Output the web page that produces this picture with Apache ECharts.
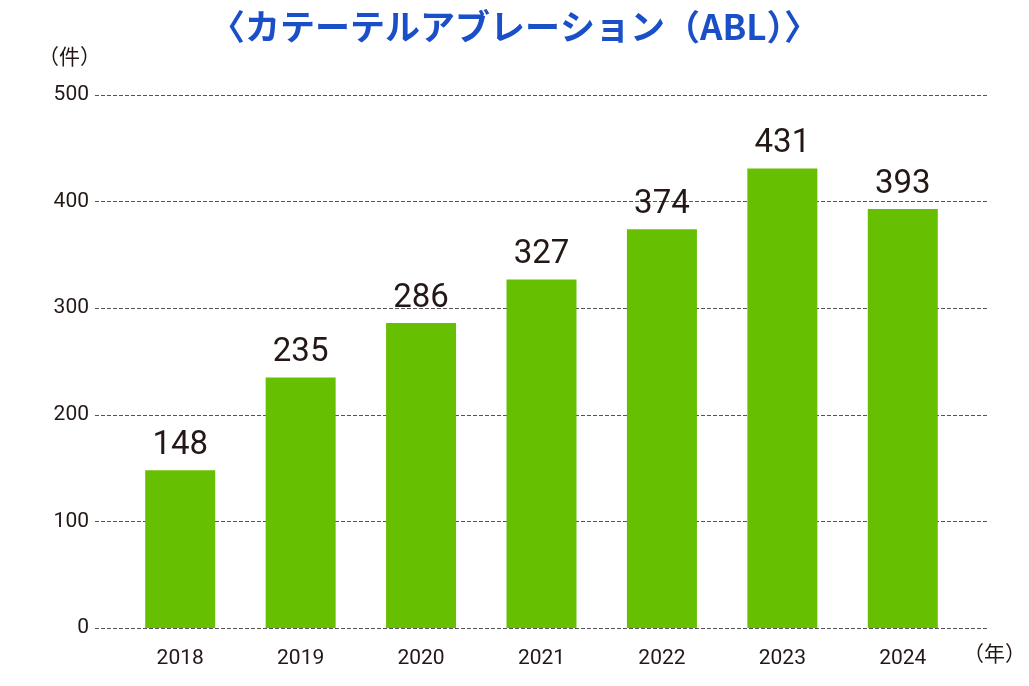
<!DOCTYPE html>
<html><head><meta charset="utf-8">
<script src="https://cdn.jsdelivr.net/npm/echarts@6/dist/echarts.min.js"></script>
<style>html,body{margin:0;background:#fff}#c{width:1029px;height:686px}</style>
</head><body><div id="c"></div>
<script>
const categories = ['2018','2019','2020','2021','2022','2023','2024'];
const values = [148,235,286,327,374,431,393];
const yTicks = [0,100,200,300,400,500];
const font = '"Noto Sans CJK JP","Noto Sans",sans-serif';
const chart = echarts.init(document.getElementById('c'));
chart.setOption({
  backgroundColor:'#fff',
  title:{text:'〈カテーテルアブレーション（ABL）〉',left:'center',top:4,
    textStyle:{color:'#1a4fc8',fontSize:35,fontWeight:'bold',fontFamily:font}},
  graphic:[
    {type:'text',left:38,top:46,style:{text:'（件）',fontSize:21,fill:'#231815',fontFamily:font}},
    {type:'text',left:963,top:643,style:{text:'（年）',fontSize:21,fill:'#231815',fontFamily:font}}
  ],
  grid:[
    {left:120,right:66,top:95,bottom:58},
    {left:95,right:41,top:95,bottom:58}
  ],
  xAxis:[
    {type:'category',data:categories,gridIndex:0,axisLine:{show:false},axisTick:{show:false},
     axisLabel:{fontSize:21,color:'#231815',margin:20,fontFamily:'Roboto'}},
    {type:'category',data:[''],gridIndex:1,show:false}
  ],
  yAxis:[
    {type:'value',gridIndex:0,min:0,max:500,interval:100,show:false},
    {type:'value',gridIndex:1,min:0,max:500,interval:100,
     axisLine:{show:false},axisTick:{show:false},
     axisLabel:{fontSize:21,color:'#231815',margin:6,fontFamily:'Roboto'},
     splitLine:{lineStyle:{type:'dashed',color:'#555',width:1}}}
  ],
  series:[{type:'bar',data:values,xAxisIndex:0,yAxisIndex:0,barWidth:70,
    itemStyle:{color:'#66bf00'},
    label:{show:true,position:'top',fontSize:33,color:'#231815',distance:8,fontFamily:'Roboto'}}]
});
</script></body></html>
